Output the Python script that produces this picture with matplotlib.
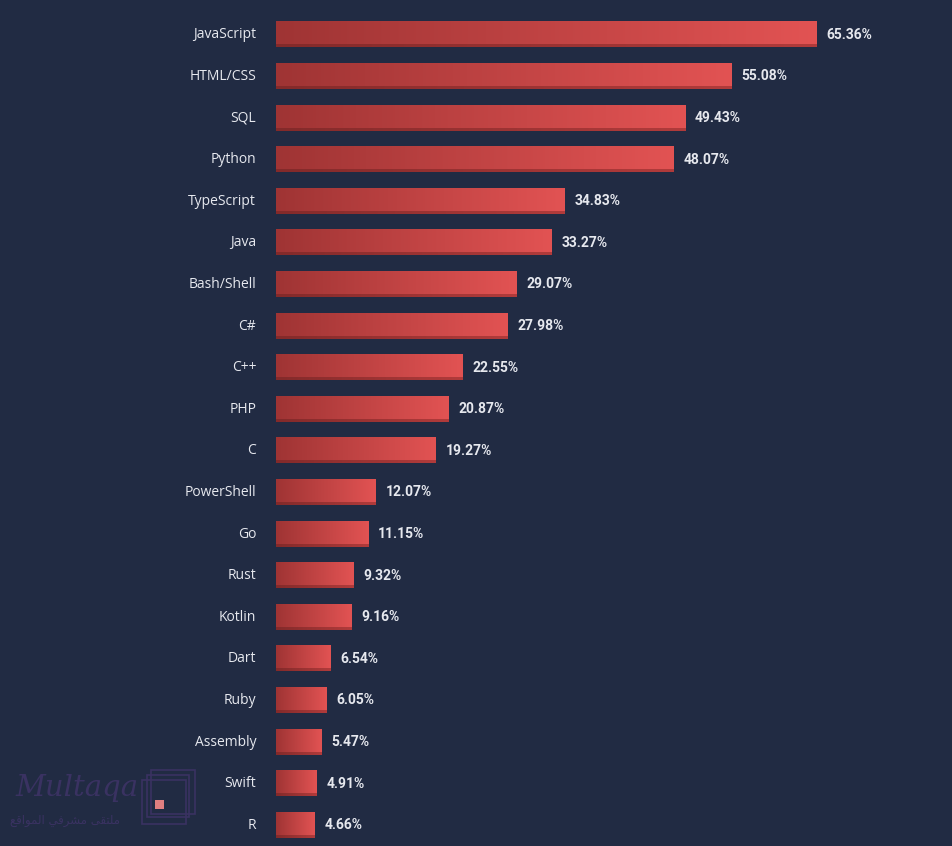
import matplotlib.pyplot as plt
import matplotlib.colors as mcolors
from matplotlib.patches import Rectangle
import numpy as np

languages = ['JavaScript', 'HTML/CSS', 'SQL', 'Python', 'TypeScript', 'Java',
             'Bash/Shell', 'C#', 'C++', 'PHP', 'C', 'PowerShell', 'Go', 'Rust',
             'Kotlin', 'Dart', 'Ruby', 'Assembly', 'Swift', 'R']
shares = [65.36, 55.08, 49.43, 48.07, 34.83, 33.27, 29.07, 27.98, 22.55, 20.87,
          19.27, 12.07, 11.15, 9.32, 9.16, 6.54, 6.05, 5.47, 4.91, 4.66]

BG = '#212b43'
face_cmap = mcolors.LinearSegmentedColormap.from_list('face', ['#9f3434', '#e25353'])
edge_cmap = mcolors.LinearSegmentedColormap.from_list('edge', ['#832a2a', '#b13b3b'])
grad = np.linspace(0, 1, 256).reshape(1, -1)

fig = plt.figure(figsize=(9.53, 8.46), dpi=100, facecolor=BG)
ax = fig.add_axes([276 / 953, 0, 662 / 953, 1 - 14.0 / 846])
ax.set_facecolor(BG)
ax.set_xlim(0, 80)
ax.set_ylim(19.5, -0.5)
ax.axis('off')

face_h = 0.53
edge_h = 0.075
for i, (lang, val) in enumerate(zip(languages, shares)):
    top = i - 0.3
    # darker strip under the bar
    ax.imshow(grad, cmap=edge_cmap, aspect='auto', interpolation='bilinear',
              extent=(0, val, top + face_h + edge_h, top + face_h), zorder=2)
    ax.imshow(grad, cmap=face_cmap, aspect='auto', interpolation='bilinear',
              extent=(0, val, top + face_h, top), zorder=3)
    ax.text(-2.4, i, lang, ha='right', va='center', fontsize=10,
            family='Open Sans', color='#e6e8ee', clip_on=False)
    ax.text(val + 1.2, i, f'{val:.2f}%', ha='left', va='center', fontsize=10,
            family='Roboto', fontweight='bold', color='#e6e8ee')

# watermark
wm = '#3a3262'
fig.text(15 / 953, 1 - 788 / 846, 'Multaqa', fontsize=21, style='italic',
         family='DejaVu Serif', color=wm, va='center', ha='left')
arabic = '\uFECA\uFED7\uFE8D\uFEEE\uFEE4\uFEDF\uFE8D \uFEF2\uFED3\uFEAE\uFEB8\uFEE3 \uFEF0\uFED8\uFE98\uFEE0\uFEE3'
fig.text(10 / 953, 1 - 820 / 846, arabic, fontsize=8.5, family='DejaVu Sans',
         color=wm, va='center', ha='left')
for (x0, y0, w, h) in [(142, 780, 44, 44), (147, 775, 42, 42), (151, 770, 44, 44)]:
    fig.patches.append(Rectangle((x0 / 953, 1 - (y0 + h) / 846), w / 953, h / 846,
                                 transform=fig.transFigure, fill=False,
                                 edgecolor=wm, linewidth=1.2))
fig.patches.append(Rectangle((155 / 953, 1 - 809 / 846), 9 / 953, 9 / 846,
                             transform=fig.transFigure, facecolor='#e07f80',
                             edgecolor='none'))

fig.savefig('out.png', dpi=100, facecolor=BG)
